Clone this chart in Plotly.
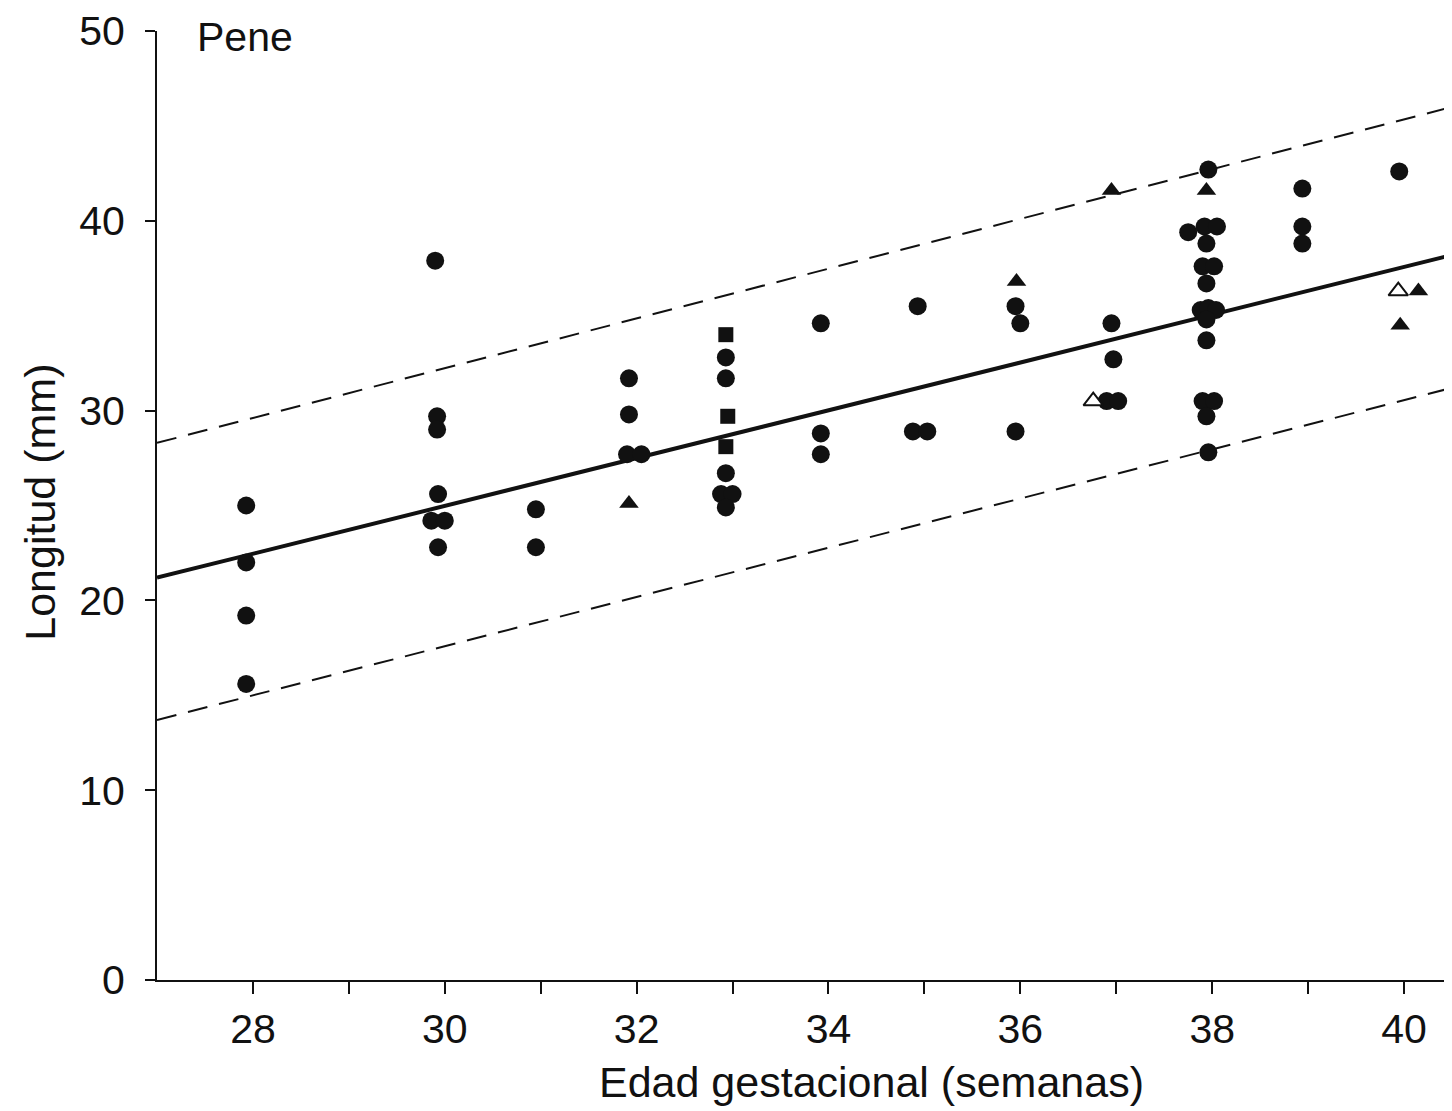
import plotly.graph_objects as go

# ---- data ----
circle_x = [27.93, 27.93, 27.93, 27.93,
            29.90, 29.92, 29.92, 29.93, 29.86, 30.00, 29.93,
            30.95, 30.95,
            31.92, 31.92, 31.90, 32.05,
            32.93, 32.93, 32.93, 32.88, 33.00, 32.93,
            33.92, 33.92, 33.92,
            34.93, 34.88, 35.03,
            35.95, 36.00, 35.95,
            36.95, 36.97, 36.90, 37.02,
            37.96, 37.75, 37.92, 38.05, 37.94, 37.90, 38.02, 37.94, 37.88, 37.96, 38.04,
            37.94, 37.94, 37.90, 38.02, 37.94, 37.96,
            38.94, 38.94, 38.94,
            39.95]
circle_y = [25.0, 22.0, 19.2, 15.6,
            37.9, 29.7, 29.0, 25.6, 24.2, 24.2, 22.8,
            24.8, 22.8,
            31.7, 29.8, 27.7, 27.7,
            32.8, 31.7, 26.7, 25.6, 25.6, 24.9,
            34.6, 28.8, 27.7,
            35.5, 28.9, 28.9,
            35.5, 34.6, 28.9,
            34.6, 32.7, 30.5, 30.5,
            42.7, 39.4, 39.7, 39.7, 38.8, 37.6, 37.6, 36.7, 35.3, 35.4, 35.3,
            34.8, 33.7, 30.5, 30.5, 29.7, 27.8,
            41.7, 39.7, 38.8,
            42.6]

square_x = [32.93, 32.95, 32.93]
square_y = [34.0, 29.7, 28.1]

tri_x = [31.92, 35.96, 36.95, 37.94, 39.96, 40.15]
tri_y = [25.1, 36.8, 41.6, 41.6, 34.5, 36.3]

open_tri_x = [36.76, 39.94]
open_tri_y = [30.5, 36.3]

fit_x = [27.0, 40.5]
fit_mean = [21.2, 38.2]
fit_upper = [28.3, 46.0]
fit_lower = [13.7, 31.2]

x_tickvals = [28, 29, 30, 31, 32, 33, 34, 35, 36, 37, 38, 39, 40]
x_ticktext = ["28", "", "30", "", "32", "", "34", "", "36", "", "38", "", "40"]
y_tickvals = [0, 10, 20, 30, 40, 50]

FONT = "Liberation Sans, Arial, sans-serif"
INK = "#111111"

fig = go.Figure()

fig.add_trace(go.Scatter(x=fit_x, y=fit_upper, mode="lines",
                         line=dict(color=INK, width=2, dash="20px,12px"), hoverinfo="skip"))
fig.add_trace(go.Scatter(x=fit_x, y=fit_lower, mode="lines",
                         line=dict(color=INK, width=2, dash="20px,12px"), hoverinfo="skip"))
fig.add_trace(go.Scatter(x=fit_x, y=fit_mean, mode="lines",
                         line=dict(color=INK, width=4), hoverinfo="skip"))

fig.add_trace(go.Scatter(x=circle_x, y=circle_y, mode="markers",
                         marker=dict(symbol="circle", size=18, color=INK, line=dict(width=0))))
fig.add_trace(go.Scatter(x=square_x, y=square_y, mode="markers",
                         marker=dict(symbol="square", size=15, color=INK, line=dict(width=0))))
fig.add_trace(go.Scatter(x=tri_x, y=tri_y, mode="markers",
                         marker=dict(symbol="triangle-up", size=17, color=INK, line=dict(width=0))))
fig.add_trace(go.Scatter(x=open_tri_x, y=open_tri_y, mode="markers",
                         marker=dict(symbol="triangle-up", size=17, color="white",
                                     line=dict(width=2, color=INK))))

# the page body adds an 8px margin, so the figure is smaller and margins shifted
fig.update_layout(
    width=1444, height=1103,
    margin=dict(l=149, r=0, t=18, b=131),
    paper_bgcolor="white", plot_bgcolor="white",
    showlegend=False,
    font=dict(family=FONT, color=INK, size=41),
    xaxis=dict(range=fit_x, tickvals=x_tickvals, ticktext=x_ticktext,
               showgrid=False, zeroline=False, showline=True, linecolor=INK, linewidth=2,
               ticks="outside", ticklen=12, tickwidth=2, tickcolor=INK,
               ticklabeloverflow="allow",
               tickfont=dict(size=41, family=FONT, color=INK)),
    yaxis=dict(range=[0, 50], tickvals=y_tickvals,
               showgrid=False, zeroline=False, showline=True, linecolor=INK, linewidth=2,
               ticks="outside", ticklen=10, tickwidth=2, tickcolor=INK,
               ticklabelstandoff=12, ticklabeloverflow="allow",
               tickfont=dict(size=41, family=FONT, color=INK)),
    annotations=[
        dict(text="Pene", xref="paper", yref="paper", x=0.0293, y=0.9937,
             xanchor="left", yanchor="middle", showarrow=False,
             font=dict(size=41, family=FONT, color=INK)),
        dict(text="Edad gestacional (semanas)", xref="paper", yref="paper",
             x=0.552, y=-0.108, xanchor="center", yanchor="middle", showarrow=False,
             font=dict(size=43, family=FONT, color=INK)),
        dict(text="Longitud (mm)", xref="paper", yref="paper",
             x=-0.0903, y=0.503, xanchor="center", yanchor="middle", showarrow=False,
             textangle=-90, font=dict(size=43, family=FONT, color=INK)),
    ],
)

fig.write_html("out.html")
